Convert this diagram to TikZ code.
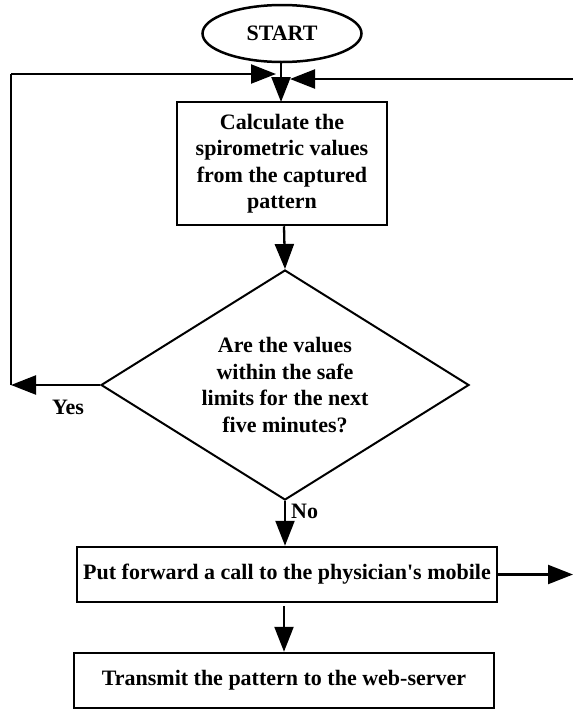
\documentclass[tikz,border=0pt]{standalone}
\usepackage{fontspec}
\setmainfont{Liberation Serif}
\usetikzlibrary{shapes.geometric,arrows.meta}
\begin{document}
\begin{tikzpicture}[x=1pt,y=-1pt,
  every node/.style={font=\bfseries\fontsize{22}{26.5}\selectfont},
  line/.style={line width=2.3pt},
  arr/.style={line width=2.3pt,-{Triangle[length=25pt,width=19pt]}},
  boxnode/.style={draw,line width=2.5pt,inner sep=0pt,align=center},
  lbl/.style={inner sep=0pt}]
\useasboundingbox (0,0) rectangle (573,710);
\node[boxnode,ellipse,minimum width=159pt,minimum height=57pt] (start) at (282,33.5) {START};
\node[boxnode,minimum width=210pt,minimum height=123pt] (calc) at (282,163.5)
  {Calculate the\\spirometric values\\from the captured\\pattern};
\node[boxnode,diamond,line width=2pt,aspect=1.6,minimum width=368pt,minimum height=230pt] (dec) at (285,385)
  {Are the values\\within the safe\\limits for the next\\five minutes?};
\node[boxnode,minimum width=420pt,minimum height=55pt] (call) at (287,574.5)
  {Put forward a call to the physician\textquotesingle s mobile};
\node[boxnode,minimum width=420pt,minimum height=55pt] (trans) at (284,680.5)
  {Transmit the pattern to the web-server};
\coordinate (yesend) at (11,385);
\coordinate (topL) at (11,74);
\coordinate (joinL) at (276,74);
\coordinate (edgeR) at (573,79);
\coordinate (joinR) at (290,79);
\coordinate (outR) at (573,574.5);
\draw[arr] (start.south -| 281,0) -- (281,102);
\draw[arr] (dec.west) -- (yesend);
\draw[line] (yesend) -- (topL);
\draw[arr] (topL) -- (joinL);
\draw[arr] (edgeR) -- (joinR);
\draw[arr] (calc.south -| 284,0) -- (dec.north);
\draw[arr] (dec.south) -- (call.north -| dec.south);
\draw[arr] (call.east) -- (outR);
\draw[arr] (284,606) -- (trans.north -| 284,0);
\node[lbl] (yes) at (68,407) {Yes};
\node[lbl,anchor=west] (no) at (291,511) {No};
\end{tikzpicture}
\end{document}
